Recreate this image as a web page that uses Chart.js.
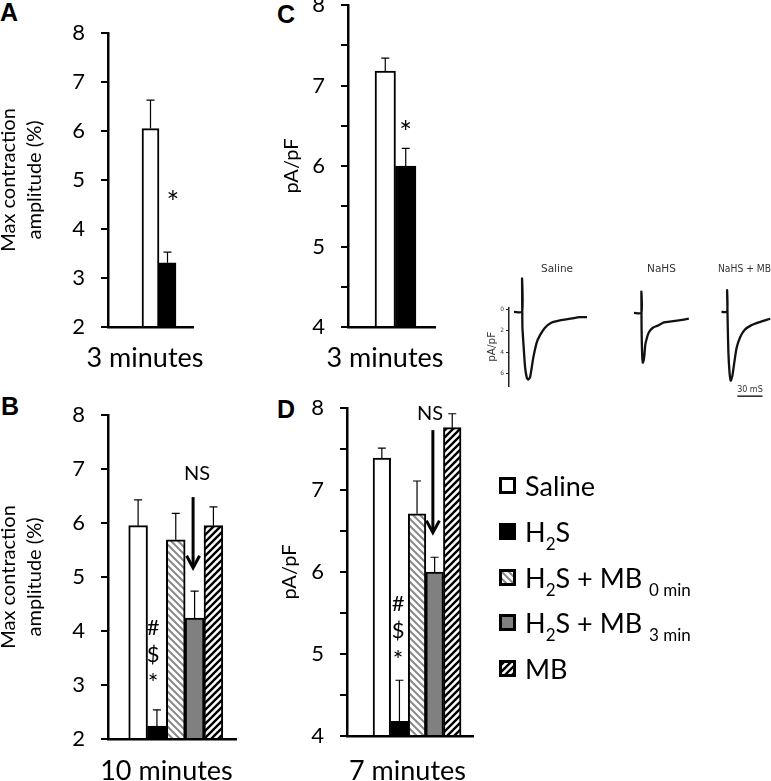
<!DOCTYPE html>
<html>
<head>
<meta charset="utf-8">
<script src="https://cdn.jsdelivr.net/npm/chart.js@4.4.0/dist/chart.umd.min.js"></script>
<style>
  body { margin: 0; background: #fff; }
  #page { position: relative; width: 771px; height: 781px; overflow: hidden; font-family: Lato, "Open Sans", sans-serif; }
  .chart { position: absolute; }
  .letter { position: absolute; font: bold 25px "Liberation Sans", Arial, sans-serif; line-height: 1; }
  #legend { position: absolute; left: 499px; top: 463px; }
  #legend .row { height: 45.7px; display: flex; align-items: center; font-size: 27px; white-space: nowrap; }
  #legend .row canvas { margin-right: 9px; }
  #legend sub { font-size: 17px; vertical-align: baseline; position: relative; top: 8px; }
</style>
</head>
<body>
<div id="page">
  <div class="letter" style="left:0px;top:0px">A</div>
  <div class="letter" style="left:277px;top:2px">C</div>
  <div class="letter" style="left:1px;top:394px">B</div>
  <div class="letter" style="left:277px;top:397px">D</div>
  <div id="legend"></div>
</div>
<script>
// series shared by all bar panels
var seriesLabels = ["Saline", "H<sub>2</sub>S", "H<sub>2</sub>S + MB <sub>0 min</sub>", "H<sub>2</sub>S + MB <sub>3 min</sub>", "MB"];

// A: max contraction amplitude (%), 3 minutes
var contr3Values = [6.05, 3.31];
var contr3Errors = [0.58, 0.22];
// B: max contraction amplitude (%), 10 minutes
var contr10Values = [5.95, 2.24, 5.69, 4.24, 5.95];
var contr10Errors = [0.48, 0.30, 0.49, 0.50, 0.35];
// C: pA/pF, 3 minutes
var curr3Values = [7.18, 6.0];
var curr3Errors = [0.16, 0.22];
// D: pA/pF, 7 minutes
var curr7Values = [7.39, 4.18, 6.71, 6.0, 7.76];
var curr7Errors = [0.12, 0.50, 0.40, 0.18, 0.17];

// current traces (ms, pA/pF)
var traceTicks = [0, 2, 4, 6];
var salineTime = [0, 6.7, 6.7, 7.0, 7.8, 9.2, 10.6, 11.7, 13.3, 14.7, 16.1, 18.9, 21.7, 25.8, 31.4, 38.3, 46.7, 55, 60.8];
var salineCurr = [0.2, 0.2, -2.95, 1.6, 3.1, 5.4, 6.4, 6.6, 6.4, 5.5, 4.5, 3.1, 2.4, 1.7, 1.2, 1.0, 0.85, 0.7, 0.7];
var nahsTime = [0, 8.3, 8.3, 8.5, 8.9, 9.4, 10.0, 11.4, 12.7, 14.7, 16.9, 21.1, 26.7, 33.6, 41.9, 50.3, 61.4];
var nahsCurr = [0.3, 0.3, -1.7, 1.6, 3.5, 4.6, 5.0, 4.5, 3.3, 2.6, 2.1, 1.7, 1.5, 1.2, 1.1, 1.0, 0.85];
var nahsMbTime = [0, 6.7, 6.7, 7.5, 8.3, 9.7, 11.1, 13.1, 15.3, 18.1, 22.3, 27.8, 34.8, 44.4, 58.3];
var nahsMbCurr = [0.2, 0.2, -1.84, 1.6, 4.1, 6.0, 6.7, 6.2, 5.0, 3.6, 2.6, 1.9, 1.5, 1.2, 0.85];
var scaleBarMs = 30;

Chart.defaults.font.family = "Lato, 'Open Sans', sans-serif";
Chart.defaults.color = "#000";

var scratch = document.createElement("canvas").getContext("2d");

function hatch(color, lw, slash) {
    var s = 7;
    var c = document.createElement("canvas");
    c.width = s; c.height = s;
    var g = c.getContext("2d");
    g.fillStyle = "#fff";
    g.fillRect(0, 0, s, s);
    g.strokeStyle = color;
    g.lineWidth = lw;
    g.beginPath();
    if (slash) {
        g.moveTo(-1, s + 1); g.lineTo(s + 1, -1);
        g.moveTo(-1, 1); g.lineTo(1, -1);
        g.moveTo(s - 1, s + 1); g.lineTo(s + 1, s - 1);
    } else {
        g.moveTo(-1, -1); g.lineTo(s + 1, s + 1);
        g.moveTo(s - 1, -1); g.lineTo(s + 1, 1);
        g.moveTo(-1, s - 1); g.lineTo(1, s + 1);
    }
    g.stroke();
    return scratch.createPattern(c, "repeat");
}

var seriesFills = ["#ffffff", "#000000", hatch("#8a8a8a", 2, false), "#808080", hatch("#000000", 2.4, true)];

function fixed(size) {
    return function (scale) {
        if (scale.isHorizontal()) {
            scale.height = size;
        } else {
            scale.width = size;
        }
        scale.paddingTop = 0;
        scale.paddingBottom = 0;
        scale.paddingLeft = 0;
        scale.paddingRight = 0;
    };
}

function place(left, top, w, h) {
    var c = document.createElement("canvas");
    c.className = "chart";
    c.width = w;
    c.height = h;
    c.style.left = left + "px";
    c.style.top = top + "px";
    document.getElementById("page").appendChild(c);
    return c;
}

// draw text so that the glyphs' own box is centred on (x, y)
function centredText(ctx, text, x, y) {
    ctx.textAlign = "center";
    ctx.textBaseline = "alphabetic";
    var m = ctx.measureText(text);
    ctx.fillText(text, x, y + (m.actualBoundingBoxAscent - m.actualBoundingBoxDescent) / 2);
}

// error bars, significance marks, the NS arrow and the x caption
var panelMarks = {
    id: "panelMarks",
    afterDatasetsDraw: function (chart, args, o) {
        var ctx = chart.ctx;
        var xs = chart.scales.x;
        var ys = chart.scales.y;
        var pts = chart.data.datasets[0].data;
        ctx.save();
        ctx.strokeStyle = "#000";
        ctx.fillStyle = "#000";
        ctx.lineWidth = 1.2;
        pts.forEach(function (pt, i) {
            var x = xs.getPixelForValue(pt.x);
            var y0 = ys.getPixelForValue(pt.y);
            var y1 = ys.getPixelForValue(pt.y + o.errors[i]);
            ctx.beginPath();
            ctx.moveTo(x, y0);
            ctx.lineTo(x, y1);
            ctx.moveTo(x - 4, y1);
            ctx.lineTo(x + 4, y1);
            ctx.stroke();
        });
        (o.marks || []).forEach(function (m) {
            ctx.font = m.size + "px Lato, sans-serif";
            centredText(ctx, m.text, xs.getPixelForValue(m.x), ys.getPixelForValue(m.y));
        });
        if (o.arrow) {
            var ax = xs.getPixelForValue(o.arrow.x);
            var a0 = ys.getPixelForValue(o.arrow.from);
            var a1 = ys.getPixelForValue(o.arrow.to);
            ctx.lineWidth = 3;
            ctx.beginPath();
            ctx.moveTo(ax, a0);
            ctx.lineTo(ax, a1 - 1);
            ctx.stroke();
            ctx.beginPath();
            ctx.moveTo(ax - 6.5, a1 - 12);
            ctx.lineTo(ax, a1);
            ctx.lineTo(ax + 6.5, a1 - 12);
            ctx.stroke();
        }
        var area = chart.chartArea;
        ctx.font = "27px Lato, sans-serif";
        ctx.textAlign = "center";
        ctx.textBaseline = "alphabetic";
        ctx.fillText(o.caption, (area.left + area.right) / 2 + o.captionShift, area.bottom + o.captionGap);
        ctx.restore();
    }
};

function barPanel(p) {
    var canvas = place(p.left, p.top, p.width, p.height);
    var points = p.values.map(function (v, i) { return { x: i, y: v }; });
    return new Chart(canvas, {
        type: "bar",
        data: {
            datasets: [{
                data: points,
                backgroundColor: seriesFills.slice(0, p.values.length),
                borderColor: "#000",
                borderWidth: 2,
                borderSkipped: "bottom",
                base: p.yMin,
                categoryPercentage: 1,
                barPercentage: 1
            }]
        },
        options: {
            responsive: false,
            animation: false,
            layout: { padding: { top: p.padTop, right: p.padRight, left: 0, bottom: 0 } },
            plugins: {
                legend: { display: false },
                tooltip: { enabled: false },
                panelMarks: {
                    errors: p.errors, marks: p.marks, arrow: p.arrow,
                    caption: p.xTitle, captionShift: p.captionShift, captionGap: p.captionGap
                }
            },
            scales: {
                x: {
                    type: "linear",
                    offset: false,
                    min: p.xMin,
                    max: p.xMax,
                    z: 1,
                    ticks: { display: false, stepSize: 1, includeBounds: false },
                    grid: { offset: false, drawOnChartArea: false, drawTicks: false },
                    border: { color: "#000", width: 2.5 },
                    afterFit: fixed(p.height - p.chartBottom)
                },
                y: {
                    min: p.yMin,
                    max: p.yMax,
                    z: 1,
                    ticks: {
                        stepSize: 0.5,
                        padding: 16,
                        font: { size: 22 },
                        callback: function (v) { return v % 1 === 0 ? v : ""; }
                    },
                    grid: { drawOnChartArea: false, color: "#000", lineWidth: 2, tickLength: 7 },
                    border: { color: "#000", width: 2.5 },
                    title: { display: true, text: p.yTitle, font: { size: 20, lineHeight: p.yTitleLH }, padding: 0 },
                    afterFit: fixed(p.yAxisW)
                }
            }
        },
        plugins: [panelMarks]
    });
}

barPanel({
    left: -4, top: 0, width: 240, height: 380, padTop: 33, padRight: 43, chartBottom: 327,
    yAxisW: 112, xMin: -2.5, xMax: 2.5, yMin: 2, yMax: 8,
    values: contr3Values, errors: contr3Errors,
    xTitle: "3 minutes", captionShift: -5.5, captionGap: 40,
    yTitle: ["Max contraction", "amplitude (%)"], yTitleLH: 1.3,
    marks: [{ x: 1.32, y: 4.69, text: "*", size: 30 }]
});

barPanel({
    left: -4, top: 380, width: 270, height: 401, padTop: 35, padRight: 30, chartBottom: 359,
    yAxisW: 112, xMin: -1.6, xMax: 5.2, yMin: 2, yMax: 8,
    values: contr10Values, errors: contr10Errors,
    xTitle: "10 minutes", captionShift: -5.5, captionGap: 41,
    yTitle: ["Max contraction", "amplitude (%)"], yTitleLH: 1.3,
    marks: [
        { x: 0.8, y: 4.07, text: "#", size: 22 },
        { x: 0.8, y: 3.56, text: "$", size: 22 },
        { x: 0.8, y: 3.15, text: "*", size: 25 },
        { x: 3.13, y: 6.93, text: "NS", size: 20 }
    ],
    arrow: { x: 2.92, from: 6.48, to: 5.17 }
});

barPanel({
    left: 280, top: 0, width: 195, height: 380, padTop: 5, padRight: 40, chartBottom: 327,
    yAxisW: 68, xMin: -1.82, xMax: 2.43, yMin: 4, yMax: 8,
    values: curr3Values, errors: curr3Errors,
    xTitle: "3 minutes", captionShift: -6.5, captionGap: 40,
    yTitle: "pA/pF", yTitleLH: 1.2,
    marks: [{ x: 1.0, y: 6.51, text: "*", size: 30 }]
});

barPanel({
    left: 278, top: 380, width: 215, height: 401, padTop: 28, padRight: 20, chartBottom: 356,
    yAxisW: 69, xMin: -1.98, xMax: 5.18, yMin: 4, yMax: 8,
    values: curr7Values, errors: curr7Errors,
    xTitle: "7 minutes", captionShift: -2.5, captionGap: 44,
    yTitle: "pA/pF", yTitleLH: 1.2,
    marks: [
        { x: 0.92, y: 5.61, text: "#", size: 22 },
        { x: 0.92, y: 5.29, text: "$", size: 22 },
        { x: 0.92, y: 5.01, text: "*", size: 25 },
        { x: 2.74, y: 7.94, text: "NS", size: 20 }
    ],
    arrow: { x: 2.9, from: 7.73, to: 6.48 }
});

// 30 ms scale bar under the last trace
var scaleBar = {
    id: "scaleBar",
    afterDatasetsDraw: function (chart, args, o) {
        if (!o.length) return;
        var ctx = chart.ctx;
        var xs = chart.scales.x;
        var ys = chart.scales.y;
        var x0 = xs.getPixelForValue(o.start);
        var x1 = xs.getPixelForValue(o.start + o.length);
        var y = ys.getPixelForValue(o.y);
        ctx.save();
        ctx.strokeStyle = "#222";
        ctx.lineWidth = 1.5;
        ctx.beginPath();
        ctx.moveTo(x0, y);
        ctx.lineTo(x1, y);
        ctx.stroke();
        ctx.fillStyle = "#333";
        ctx.font = "8px 'DejaVu Sans', sans-serif";
        ctx.textAlign = "center";
        ctx.textBaseline = "bottom";
        ctx.fillText(o.label, (x0 + x1) / 2, y - 2);
        ctx.restore();
    }
};

function tracePanel(p) {
    var canvas = place(p.left, 255, p.width, 147);
    var pts = p.time.map(function (t, i) { return { x: t, y: p.curr[i] }; });
    return new Chart(canvas, {
        type: "line",
        data: {
            datasets: [{
                data: pts,
                borderColor: "#111",
                borderWidth: 2.3,
                pointRadius: 0,
                tension: 0.2,
                fill: false,
                clip: false
            }]
        },
        options: {
            responsive: false,
            animation: false,
            layout: { padding: { top: 0, bottom: 16, left: 0, right: 0 } },
            plugins: {
                legend: { display: false },
                tooltip: { enabled: false },
                title: {
                    display: true,
                    text: p.title,
                    fullSize: false,
                    color: "#333",
                    font: { family: "'DejaVu Sans', sans-serif", size: 10.5, weight: "normal", lineHeight: 1.2 },
                    padding: { top: 8, bottom: 32 }
                },
                scaleBar: p.scaleBar || {}
            },
            scales: {
                x: { type: "linear", display: false, min: p.xMin, max: p.xMax },
                y: {
                    display: p.axis,
                    reverse: true,
                    min: -0.2,
                    max: 7.2,
                    afterBuildTicks: function (s) {
                        s.ticks = traceTicks.map(function (v) { return { value: v }; });
                    },
                    ticks: { padding: 2, color: "#444", font: { family: "'DejaVu Sans', sans-serif", size: 6 } },
                    grid: { drawOnChartArea: false, color: "#222", lineWidth: 1, tickLength: 3 },
                    border: { color: "#222", width: 1.5 },
                    title: {
                        display: true, text: "pA/pF", color: "#333", padding: 0,
                        font: { family: "'DejaVu Sans', sans-serif", size: 10.5, lineHeight: 1.2 }
                    },
                    afterFit: fixed(23)
                }
            }
        },
        plugins: [scaleBar]
    });
}

tracePanel({ left: 486, width: 119, xMin: -4.17, xMax: 75.8, axis: true, title: "Saline", time: salineTime, curr: salineCurr });
tracePanel({ left: 605, width: 90, xMin: -6.67, xMax: 68.3, axis: false, title: "NaHS", time: nahsTime, curr: nahsCurr });
tracePanel({
    left: 695, width: 76, xMin: -4.17, xMax: 59.2, axis: false, title: "NaHS + MB", time: nahsMbTime, curr: nahsMbCurr,
    scaleBar: { start: 19, length: scaleBarMs, y: 8.16, label: scaleBarMs + " mS" }
});

// legend
var legend = document.getElementById("legend");
seriesLabels.forEach(function (lab, i) {
    var row = document.createElement("div");
    row.className = "row";
    var sw = document.createElement("canvas");
    sw.width = 17;
    sw.height = 17;
    var g = sw.getContext("2d");
    g.fillStyle = seriesFills[i];
    g.fillRect(0, 0, 17, 17);
    g.strokeStyle = "#000";
    g.lineWidth = 3;
    g.strokeRect(1.5, 1.5, 14, 14);
    row.appendChild(sw);
    var span = document.createElement("span");
    span.innerHTML = lab;
    row.appendChild(span);
    legend.appendChild(row);
});
</script>
</body>
</html>
